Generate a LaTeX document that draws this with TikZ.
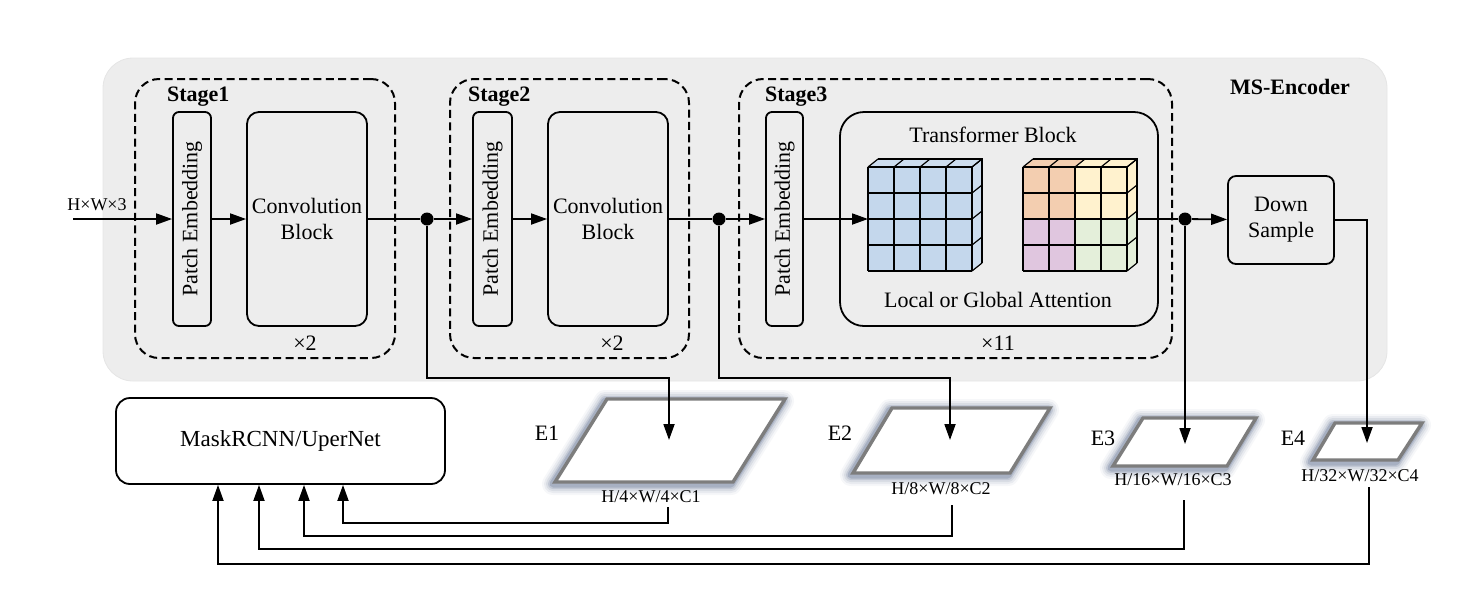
\documentclass[tikz,border=0pt]{standalone}
\usepackage{fontspec}
\setmainfont{Liberation Serif}
\usetikzlibrary{arrows.meta,fit,calc}
\definecolor{bgc}{RGB}{237,237,237}
\definecolor{cubeblue}{RGB}{196,215,236}
\definecolor{cubeor}{RGB}{243,206,176}
\definecolor{cubeye}{RGB}{255,242,206}
\definecolor{cubepu}{RGB}{224,198,223}
\definecolor{cubegr}{RGB}{228,239,218}
\definecolor{glowc}{RGB}{105,120,150}
\definecolor{pgray}{RGB}{125,125,125}
\newcommand{\myglowpara}[4]{%
  \foreach \w/\o in {11pt/0.06,9pt/0.09,7pt/0.13,5pt/0.2,3.5pt/0.3}{%
    \draw[glowc, line width=\w, opacity=\o, line join=round] ([shift={(-2,2)}]#1)--([shift={(-2,2)}]#2)--([shift={(-2,2)}]#3)--([shift={(-2,2)}]#4)--cycle;}
  \draw[pgray, line width=1.7pt, fill=white, line join=miter] (#1)--(#2)--(#3)--(#4)--cycle;}
\begin{document}
\begin{tikzpicture}[x=0.5pt,y=-0.5pt,
  fmain/.style={font=\fontsize{11}{13}\selectfont},
  fbold/.style={font=\fontsize{11}{13}\selectfont\bfseries},
  fsmall/.style={font=\fontsize{9}{11}\selectfont},
  blk/.style={draw, line width=0.9pt, inner sep=0pt},
  txt/.style={fmain, align=center, inner sep=0pt},
  stagebox/.style={draw, line width=1pt, dash pattern=on 4pt off 2.2pt, rounded corners=12pt, inner sep=0pt},
  arr/.style={line width=0.9pt, -{Triangle[length=8pt,width=5.5pt]}},
  ln/.style={line width=0.9pt},
  dot/.style={circle, fill=black, inner sep=0pt, minimum size=6.5pt},
  cl/.style={line width=0.6pt, black}
]
\useasboundingbox (0,0) rectangle (1476,602);

% encoder background
\node[fit={(103,58)(1387,381)}, inner sep=0pt, fill=bgc, draw=gray!20, line width=0.4pt, rounded corners=15pt] (enc) {};
\node[fbold] (enctitle) at (1290,87) {MS-Encoder};

% stages
\node[stagebox, fit={(135,79)(395,358)}] (s1) {};
\node[stagebox, fit={(450,79)(689,358)}] (s2) {};
\node[stagebox, fit={(739,79)(1172,358)}] (s3) {};
\node[fbold, anchor=west] (s1t) at (160,97) {Stage1};
\node[fbold, anchor=west] (s2t) at (461,97) {Stage2};
\node[fbold, anchor=west] (s3t) at (758,97) {Stage3};

% blocks
\node[blk, rounded corners=3pt, fit={(173,112)(211,326)}] (pe1) {};
\node[blk, rounded corners=6pt, fit={(247,112)(367,326)}] (cb1) {};
\node[blk, rounded corners=3pt, fit={(473,112)(512,326)}] (pe2) {};
\node[blk, rounded corners=6pt, fit={(548,112)(668,326)}] (cb2) {};
\node[blk, rounded corners=3pt, fit={(766,112)(803,326)}] (pe3) {};
\node[blk, rounded corners=12pt, fit={(840,112)(1158,326)}] (tb) {};
\node[blk, rounded corners=4pt, fit={(1228,176)(1334,264)}] (ds) {};
\node[txt, rotate=90] (pe1t) at (pe1.center) {Patch Embedding};
\node[txt, rotate=90] (pe2t) at (pe2.center) {Patch Embedding};
\node[txt, rotate=90] (pe3t) at (pe3.center) {Patch Embedding};
\node[txt] (cb1t) at (cb1.center) {Convolution\\Block};
\node[txt] (cb2t) at (cb2.center) {Convolution\\Block};
\node[txt] (dst) at (ds.center) {Down\\Sample};
\node[fmain] (tbt) at (993,135) {Transformer Block};
\node[fmain] (tba) at (998,300) {Local or Global Attention};

\node[fmain] (r1) at (305,343) {×2};
\node[fmain] (r2) at (612,343) {×2};
\node[fmain] (r3) at (998,343) {×11};

% cubes
\begin{scope}[shift={(868,167)}]
  \fill[cubeblue] (0,0) rectangle (104,104);
  \fill[cubeblue!85!white] (0,0)--(10,-8)--(114,-8)--(104,0)--cycle;
  \fill[cubeblue!85!white] (104,0)--(114,-8)--(114,96)--(104,104)--cycle;
  \foreach \i in {0,26,52,78,104}{
    \draw[cl] (\i,0)--(\i,104); \draw[cl] (0,\i)--(104,\i);
    \draw[cl] (\i,0)--++(10,-8); \draw[cl] (104,\i)--++(10,-8);}
  \draw[cl] (10,-8)--(114,-8)--(114,96);
\end{scope}
\begin{scope}[shift={(1023,167)}]
  \fill[cubeor] (0,0) rectangle (52,52);
  \fill[cubeye] (52,0) rectangle (104,52);
  \fill[cubepu] (0,52) rectangle (52,104);
  \fill[cubegr] (52,52) rectangle (104,104);
  \fill[cubeor] (0,0)--(10,-8)--(62,-8)--(52,0)--cycle;
  \fill[cubeye] (52,0)--(62,-8)--(114,-8)--(104,0)--cycle;
  \fill[cubeye] (104,0)--(114,-8)--(114,44)--(104,52)--cycle;
  \fill[cubegr] (104,52)--(114,44)--(114,96)--(104,104)--cycle;
  \foreach \i in {0,26,52,78,104}{
    \draw[cl] (\i,0)--(\i,104); \draw[cl] (0,\i)--(104,\i);
    \draw[cl] (\i,0)--++(10,-8); \draw[cl] (104,\i)--++(10,-8);}
  \draw[cl] (10,-8)--(114,-8)--(114,96);
\end{scope}
\coordinate (cubein) at (868,219);
\coordinate (cubeout) at (1137,219);

% main flow
\coordinate (inp) at (73,219);
\node[fsmall] (inlbl) at (97,205) {H×W×3};
\node[dot] (d1) at (427,219) {};
\node[dot] (d2) at (719,219) {};
\node[dot] (d3) at (1185,219) {};
\draw[arr] (inp) -- (pe1);
\draw[arr] (pe1) -- (cb1);
\draw[ln] (cb1) -- (d1);
\draw[arr] (d1) -- (pe2);
\draw[arr] (pe2) -- (cb2);
\draw[ln] (cb2) -- (d2);
\draw[arr] (d2) -- (pe3);
\draw[arr] (pe3) -- (cubein);
\draw[ln] (cubeout) -- (d3);
\draw[arr] (d3) -- (ds);

% feature maps
\myglowpara{607,399}{785,399}{733,482}{555,482}
\myglowpara{892,408}{1050,408}{1010,473}{853,473}
\myglowpara{1143,418}{1256,418}{1227,466}{1113,466}
\myglowpara{1335,423}{1422,423}{1398,460}{1313,460}
\node[fmain] (e1) at (547,433) {E1};
\node[fmain] (e2) at (840,433) {E2};
\node[fmain] (e3) at (1103,438) {E3};
\node[fmain] (e4) at (1293,438) {E4};
\node[fsmall] (l1) at (651,497) {H/4×W/4×C1};
\node[fsmall] (l2) at (941,489) {H/8×W/8×C2};
\node[fsmall] (l3) at (1173,480) {H/16×W/16×C3};
\node[fsmall] (l4) at (1360,476) {H/32×W/32×C4};
\coordinate (e1in) at (669,440);
\coordinate (e2in) at (950,440);
\coordinate (e3in) at (1185,444);
\coordinate (e4in) at (1367,443);
\coordinate (k1) at (669,378);
\coordinate (k2) at (950,378);
\coordinate (k4) at (1367,220);
\draw[arr] (d1) |- (k1) -- (e1in);
\draw[arr] (d2) |- (k2) -- (e2in);
\draw[arr] (d3) -- (e3in);
\draw[arr] (ds.east |- k4) -- (k4) -- (e4in);

% decoder
\node[blk, rounded corners=7pt, fit={(116,398)(445,484)}] (mask) {};
\node[txt, font=\fontsize{11.5}{13}\selectfont] (maskt) at (mask.center) {MaskRCNN/UperNet};
\coordinate (o1) at (668,507);
\coordinate (o2) at (952,505);
\coordinate (o3) at (1184,500);
\coordinate (o4) at (1369,487);
\coordinate (h1) at (343,523);
\coordinate (h2) at (304,536);
\coordinate (h3) at (259,549);
\coordinate (h4) at (218,564);
\draw[arr] (o1) |- (h1) -- (mask.south -| h1);
\draw[arr] (o2) |- (h2) -- (mask.south -| h2);
\draw[arr] (o3) |- (h3) -- (mask.south -| h3);
\draw[arr] (o4) |- (h4) -- (mask.south -| h4);
\end{tikzpicture}
\end{document}
